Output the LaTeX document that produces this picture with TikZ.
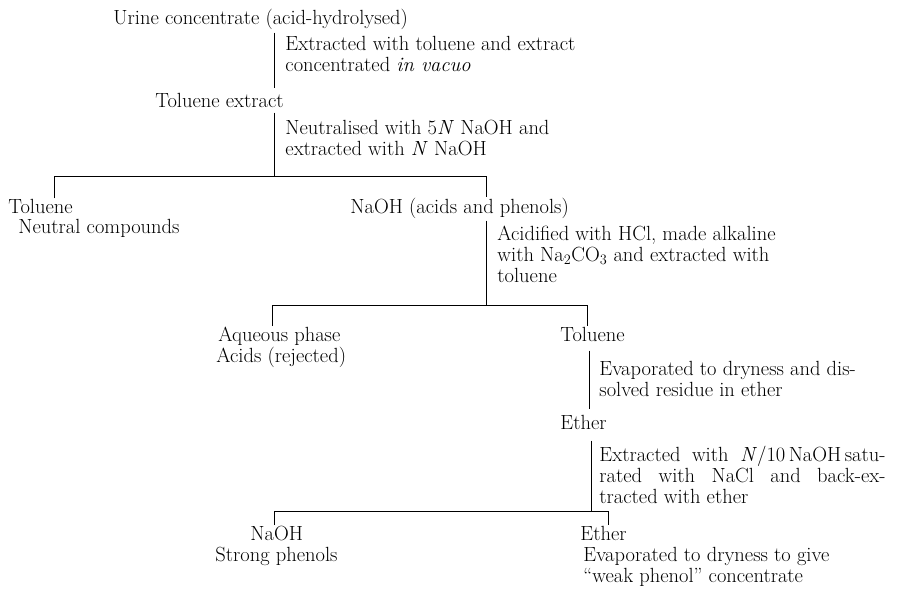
\documentclass[tikz,border=0pt]{standalone}
\usepackage{fontspec}
\usepackage{tikz}
\usetikzlibrary{positioning}

\newcommand{\fullline}[1]{\makebox[286pt][s]{#1}}

\begin{document}
\begin{tikzpicture}[
            x = 1pt, y = -1pt, % one unit per pixel of the page
            line width = 0.9pt % line style
        ]

        \tikzstyle{every node}=[
            inner sep = 0pt,
            anchor = base west,
            align = left,
            font = \fontsize{20.5}{21}\selectfont
        ]
        \tikzstyle{stage}=[]
        \tikzstyle{treat}=[]

        \useasboundingbox (0,0) rectangle (912,606);

        % products
        \node[stage] (urine) at (113,24) {Urine concentrate (acid-hydrolysed)};
        \node[stage] (tolext) at (155,107) {Toluene extract};
        \node[stage] (tolA) at (8,213) {Toluene};
        \node[stage] (neutral) at (18,233) {Neutral compounds};
        \node[stage] (naohA) at (350,213) {NaOH (acids and phenols)};
        \node[stage] (aqueous) at (218,341) {Aqueous phase};
        \node[stage] (acids) at (216,362) {Acids (rejected)};
        \node[stage] (tolB) at (560,341) {Toluene};
        \node[stage] (etherA) at (560,429) {Ether};
        \node[stage] (naohB) at (250,540) {NaOH};
        \node[stage] (strong) at (215,561) {Strong phenols};
        \node[stage] (etherB) at (580,540) {Ether};
        \node[stage] (weak) at (583,582) {Evaporated to dryness to give\\
            ``weak phenol'' concentrate};

        % treatments (anchored on the last line)
        \node[treat] (extract) at (285,71) {Extracted with toluene and extract\\
            concentrated \textit{in vacuo}};
        \node[treat] (neutralise) at (285,155) {Neutralised with 5\textit{N} NaOH and\\
            extracted with \textit{N} NaOH};
        \node[treat] (acidify) at (497,282) {Acidified with HCl, made alkaline\\
            with Na\textsubscript{2}CO\textsubscript{3} and extracted with\\ toluene};
        \node[treat] (evap) at (599,396) {Evaporated to dryness and dis-\\
            solved residue in ether};
        \node[treat] (backex) at (599,503) {\fullline{Extracted with \textit{N}/10\,NaOH\,satu-}\\
            \fullline{rated with NaCl and back-ex-}\\ tracted with ether};

        % branch points
        \coordinate (sA) at (274,0);
        \coordinate (sB) at (274,176);
        \coordinate (sBl) at (54,176);
        \coordinate (sBr) at (486,176);
        \coordinate (sC) at (486,305);
        \coordinate (sCl) at (272,305);
        \coordinate (sCr) at (587,305);
        \coordinate (sD) at (589,0);
        \coordinate (sE) at (591,511);
        \coordinate (sEl) at (274,511);
        \coordinate (sEr) at (608,511);

        \draw ([yshift=-3pt]urine.south -| sA) -- ([yshift=4pt]tolext.north -| sA);
        \draw ([yshift=-5pt]tolext.south -| sA) -- (sB);
        \draw (tolA.north -| sBl) -- (sBl) -- (sBr) -- (naohA.north -| sBr);
        \draw ([yshift=-2pt]naohA.south -| sBr) -- (sC);
        \draw (aqueous.north -| sCl) -- (sCl) -- (sCr) -- (tolB.north -| sCr);
        \draw ([yshift=-9pt]tolB.south -| sD) -- ([yshift=5pt]etherA.north -| sD);
        \draw ([yshift=-11pt]etherA.south -| sE) -- (sE);
        \draw (naohB.north -| sEl) -- (sEl) -- (sEr) -- (etherB.north -| sEr);

  \end{tikzpicture}
\end{document}
